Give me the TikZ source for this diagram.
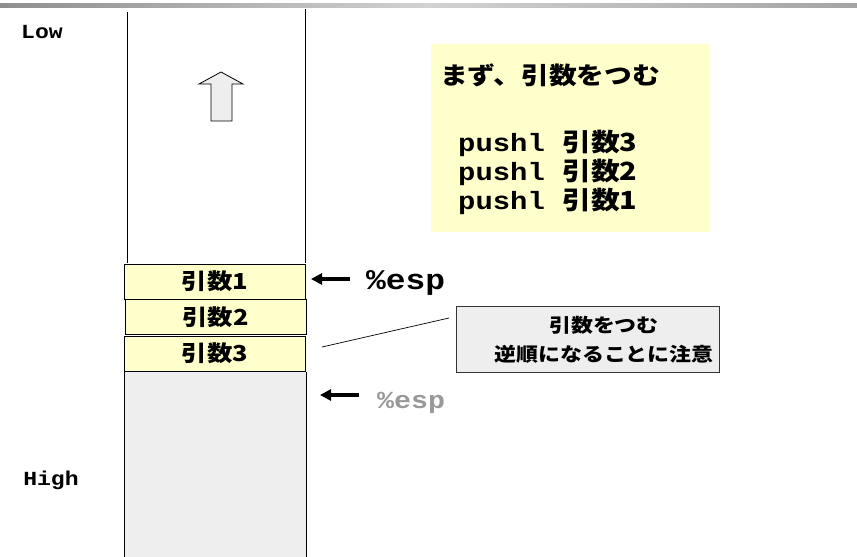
\documentclass[tikz,border=0pt]{standalone}
\usepackage{fontspec}
\setmonofont{Liberation Mono}
\newfontfamily\jp{Noto Sans CJK JP}
\usetikzlibrary{arrows.meta}
\newcommand\sx[1]{\scalebox{1.155}[1]{#1}}
\definecolor{paleyellow}{HTML}{FFFFCC}
\definecolor{palegray}{HTML}{EEEEEE}
\definecolor{espgray}{HTML}{999999}
\definecolor{bardark}{HTML}{8E8E8E}
\definecolor{barlight}{HTML}{D2D2D2}
\definecolor{barright}{HTML}{A4A4A4}
\tikzset{
  cell/.style={draw=black, line width=0.8pt, fill=paleyellow, minimum width=181pt,
    minimum height=35pt, inner sep=0pt, font=\jp\bfseries\fontsize{22}{26}\selectfont},
  monolabel/.style={font=\ttfamily\bfseries\fontsize{20}{24}\selectfont, inner sep=0pt},
  esplabel/.style={font=\ttfamily\bfseries\fontsize{28.5}{32}\selectfont, inner sep=0pt, anchor=west},
  ptr/.style={line width=3.4pt, -{Triangle[length=11pt,width=11pt]}},
  pushline/.style={inner sep=0pt, anchor=west},
  notetext/.style={inner sep=0pt, font=\jp\bfseries\fontsize{19}{23}\selectfont},
}
\begin{document}
\begin{tikzpicture}[x=1pt,y=-1pt]
\useasboundingbox (0,0) rectangle (857,557);
% top bar
\shade[left color=bardark, right color=barlight] (0,3) rectangle (428,7);
\shade[left color=barlight, right color=barright] (428,3) rectangle (857,7);
% labels Low / High
\node[monolabel] (low) at (42,32) {\sx{Low}};
\node[monolabel] (high) at (51,480) {\sx{High}};
% stack outline
\fill[palegray] (124,372) rectangle (306,557);
\draw[line width=0.8pt] (127,12) -- (127,263);
\draw[line width=0.8pt] (305,9) -- (305,263);
\draw[line width=0.9pt] (124,372) -- (124,557);
\draw[line width=0.9pt] (306,372) -- (306,557);
% cells
\node[cell] (a1) at (215,281.5) {\sx{引数1}};
\node[cell] (a2) at (215.5,317) {\sx{引数2}};
\node[cell] (a3) at (215,353.5) {\sx{引数3}};
% up arrow
\draw[fill=palegray, line width=0.8pt, line join=miter]
  (221,72) -- (243,84) -- (232,84) -- (232,121) -- (211,121) -- (211,84) -- (199,84) -- cycle;
% pointers
\coordinate (p1s) at (350,279);
\coordinate (p1e) at (311,279);
\draw[ptr] (p1s) -- (p1e);
\node[esplabel] (esp1) at (366,283) {\sx{\%esp}};
\coordinate (p2s) at (359,395);
\coordinate (p2e) at (320,395);
\draw[ptr] (p2s) -- (p2e);
\node[esplabel, text=espgray, font=\ttfamily\bfseries\fontsize{24.5}{28}\selectfont] (esp2) at (377,403) {\sx{\%esp}};
% yellow box
\node[fill=paleyellow, minimum width=278pt, minimum height=188pt, inner sep=0pt, anchor=north west] (ybox) at (431,44) {};
\node[pushline, font=\jp\bfseries\fontsize{24}{28}\selectfont] (title) at (440,75) {\sx{まず、引数をつむ}};
\node[pushline] (push3) at (458,143) {\sx{\ttfamily\bfseries\fontsize{25}{28}\selectfont pushl\ \jp\fontsize{25}{28}\selectfont 引数3}};
\node[pushline] (push2) at (458,172) {\sx{\ttfamily\bfseries\fontsize{25}{28}\selectfont pushl\ \jp\fontsize{25}{28}\selectfont 引数2}};
\node[pushline] (push1) at (458,201) {\sx{\ttfamily\bfseries\fontsize{25}{28}\selectfont pushl\ \jp\fontsize{25}{28}\selectfont 引数1}};
% callout
\node[draw=black!80, fill=palegray, line width=0.8pt, minimum width=263pt, minimum height=66pt, inner sep=0pt, anchor=north west] (note) at (456,306) {};
\node[notetext] (note1) at (604,325) {\sx{引数をつむ}};
\node[notetext] (note2) at (604,354) {\sx{逆順になることに注意}};
\coordinate (lnA) at (322,347);
\coordinate (lnB) at (449,318);
\draw[line width=0.7pt] (lnA) -- (lnB);
\end{tikzpicture}
\end{document}
